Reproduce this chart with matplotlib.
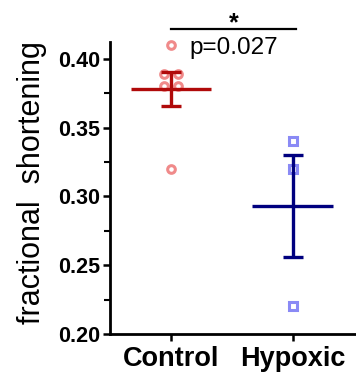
import numpy as np
import matplotlib
matplotlib.use("Agg")
import matplotlib.pyplot as plt
from matplotlib.ticker import MultipleLocator

plt.rcParams["font.family"] = ["Liberation Sans", "DejaVu Sans"]

# values
groups = ["Control", "Hypoxic"]
control = [0.41, 0.389, 0.389, 0.38, 0.38, 0.32]
control_jitter = [0.0, -0.055, 0.055, -0.055, 0.055, 0.0]
hypoxic = [0.34, 0.32, 0.22]
hypoxic_jitter = [0.0, 0.0, 0.0]
p_text = "p=0.027"

dark = ["#b00a0a", "#00007f"]
light = ["#f08a8a", "#8a8af5"]
markers = ["o", "s"]

fig = plt.figure(figsize=(3.56, 3.74), dpi=100)
ax = fig.add_axes([0.309, 0.107, 0.691, 0.781])

for i, (vals, jit) in enumerate([(control, control_jitter), (hypoxic, hypoxic_jitter)]):
    vals = np.array(vals)
    x = i + np.array(jit)
    ax.plot(x, vals, ls="none", marker=markers[i], ms=5.5, mfc="none",
            mec=light[i], mew=2.2, zorder=2, clip_on=False)
    mean = vals.mean()
    sem = vals.std(ddof=1) / np.sqrt(len(vals))
    ax.plot([i - 0.33, i + 0.33], [mean, mean], color=dark[i], lw=2.4,
            solid_capstyle="butt", zorder=3)
    ax.errorbar(i, mean, yerr=sem, color=dark[i], elinewidth=2.4,
                capsize=7.5, capthick=2.4, zorder=3)

ax.set_xlim(-0.5, 1.52)
ax.set_xticks([0, 1])
ax.set_xticklabels(groups, fontsize=19.5, fontweight="bold")
ax.yaxis.set_major_locator(MultipleLocator(0.05))
ax.yaxis.set_minor_locator(MultipleLocator(0.025))
ax.set_ylim(0.20, 0.4124)
ax.set_yticks([0.20, 0.25, 0.30, 0.35, 0.40])
ax.set_yticklabels([f"{v:.2f}" for v in ax.get_yticks()], fontsize=15.5,
                   fontweight="bold")
ax.tick_params(axis="both", which="major", length=5, width=1.8, direction="out")
ax.tick_params(axis="y", which="minor", length=4, width=1.5)
ax.tick_params(axis="x", pad=4)
ax.tick_params(axis="y", pad=2)
for side in ["top", "right"]:
    ax.spines[side].set_visible(False)
for side in ["left", "bottom"]:
    ax.spines[side].set_linewidth(2)
ax.set_ylabel("fractional  shortening", fontsize=22, labelpad=6)
ax.yaxis.set_label_coords(-0.255, 0.52)

# significance bracket
ax.plot([0, 1.03], [0.4218, 0.4218], color="black", lw=1.6, clip_on=False)
ax.text(0.52, 0.4174, "*", ha="center", va="bottom", fontsize=18,
        fontweight="bold", clip_on=False)
ax.text(0.515, 0.4082, p_text, ha="center", va="center", fontsize=17.5,
        clip_on=False)

fig.savefig("out.png", dpi=100)
